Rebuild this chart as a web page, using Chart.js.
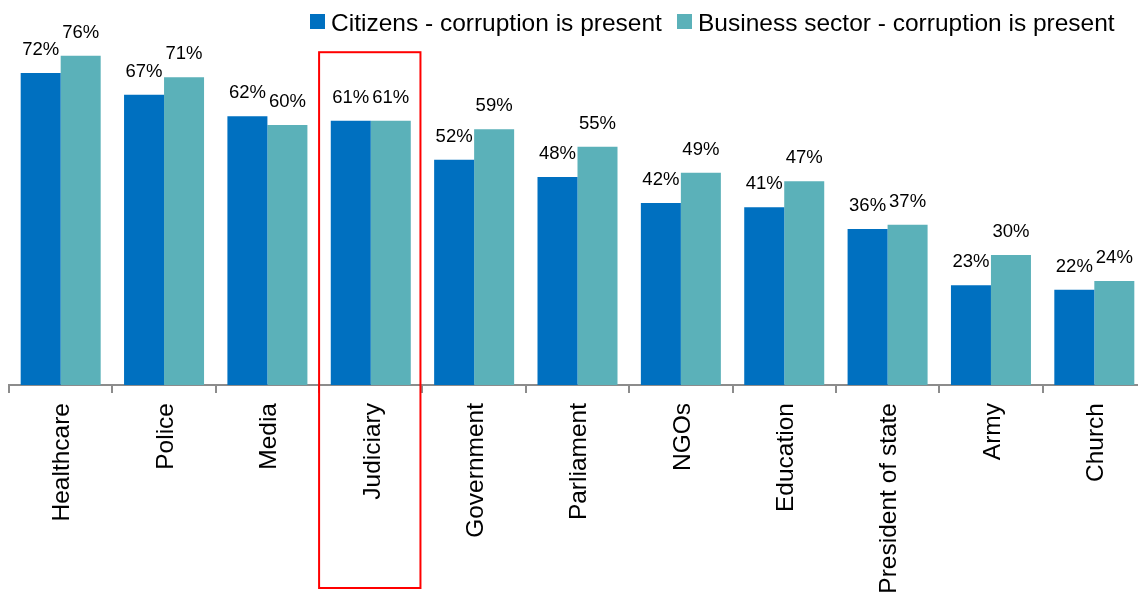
<!DOCTYPE html>
<html>
<head>
<meta charset="utf-8">
<script src="https://cdn.jsdelivr.net/npm/chart.js@4/dist/chart.umd.min.js"></script>
<style>
  html, body { margin: 0; padding: 0; background: #fff; overflow: hidden; }
  #wrap { position: relative; width: 1150px; height: 594px; }
</style>
</head>
<body>
<div id="wrap"><canvas id="chart" width="1150" height="594"></canvas></div>
<script>
// categories + values
const categories = ['Healthcare', 'Police', 'Media', 'Judiciary', 'Government', 'Parliament',
    'NGOs', 'Education', 'President of state', 'Army', 'Church'];
const citizens = [72, 67, 62, 61, 52, 48, 42, 41, 36, 23, 22];
const business = [76, 71, 60, 61, 59, 55, 49, 47, 37, 30, 24];
const seriesNames = ['Citizens - corruption is present', 'Business sector - corruption is present'];
const highlighted = 'Judiciary';

const FONT = '"Liberation Sans", Arial, sans-serif';
const BLUE = '#0070C0';
const TEAL = '#5BB1B9';

// value labels above each bar
const valueLabels = {
    id: 'valueLabels',
    afterDatasetsDraw(chart) {
        const ctx = chart.ctx;
        ctx.save();
        ctx.font = '18.5px ' + FONT;
        ctx.fillStyle = '#000';
        ctx.textAlign = 'center';
        ctx.textBaseline = 'alphabetic';
        chart.data.datasets.forEach((ds, i) => {
            chart.getDatasetMeta(i).data.forEach((bar, j) => {
                ctx.fillText(ds.data[j] + '%', bar.x, bar.y - 18);
            });
        });
        ctx.restore();
    }
};

// legend drawn top right, over the plot
const topLegend = {
    id: 'topLegend',
    afterDraw(chart) {
        const ctx = chart.ctx;
        const xs = [310, 677];
        ctx.save();
        ctx.font = '24.5px ' + FONT;
        ctx.textBaseline = 'alphabetic';
        chart.data.datasets.forEach((ds, i) => {
            ctx.fillStyle = ds.backgroundColor;
            ctx.fillRect(xs[i], 14, 15, 15);
            ctx.fillStyle = '#000';
            ctx.fillText(ds.label, xs[i] + 21, 31);
        });
        ctx.restore();
    }
};

// red box round the highlighted category
const highlightBox = {
    id: 'highlightBox',
    afterDraw(chart) {
        const x = chart.scales.x, y = chart.scales.y;
        const idx = categories.indexOf(highlighted);
        const half = (x.getPixelForValue(1) - x.getPixelForValue(0)) / 2;
        const cx = x.getPixelForValue(idx);
        const ctx = chart.ctx;
        ctx.save();
        ctx.strokeStyle = '#FF0000';
        ctx.lineWidth = 2;
        ctx.strokeRect(cx - half, y.getPixelForValue(76.8), 2 * half - 2, chart.height - 6 - y.getPixelForValue(76.8));
        ctx.restore();
    }
};

new Chart(document.getElementById('chart'), {
    type: 'bar',
    data: {
        labels: categories,
        datasets: [{
            label: seriesNames[0],
            data: citizens,
            backgroundColor: BLUE,
            borderWidth: 0,
            categoryPercentage: 0.774,
            barPercentage: 1.0
        }, {
            label: seriesNames[1],
            data: business,
            backgroundColor: TEAL,
            borderWidth: 0,
            categoryPercentage: 0.774,
            barPercentage: 1.0
        }]
    },
    options: {
        responsive: false,
        animation: false,
        layout: { padding: { left: 9, right: 4, top: 0, bottom: 0 } },
        scales: {
            y: {
                display: false,
                min: 0,
                max: 88.85
            },
            x: {
                afterFit: (scale) => { scale.height = 209; },
                border: { display: true, color: '#8C8C8C', width: 2 },
                grid: {
                    offset: true,
                    drawOnChartArea: false,
                    drawTicks: true,
                    tickLength: 8,
                    color: '#8C8C8C',
                    lineWidth: 2
                },
                ticks: {
                    color: '#000',
                    font: { family: FONT, size: 24.5 },
                    minRotation: 90,
                    maxRotation: 90,
                    autoSkip: false,
                    padding: 10,
                    labelOffset: 2
                }
            }
        },
        plugins: {
            legend: { display: false },
            tooltip: { enabled: false }
        }
    },
    plugins: [valueLabels, topLegend, highlightBox]
});
</script>
</body>
</html>
